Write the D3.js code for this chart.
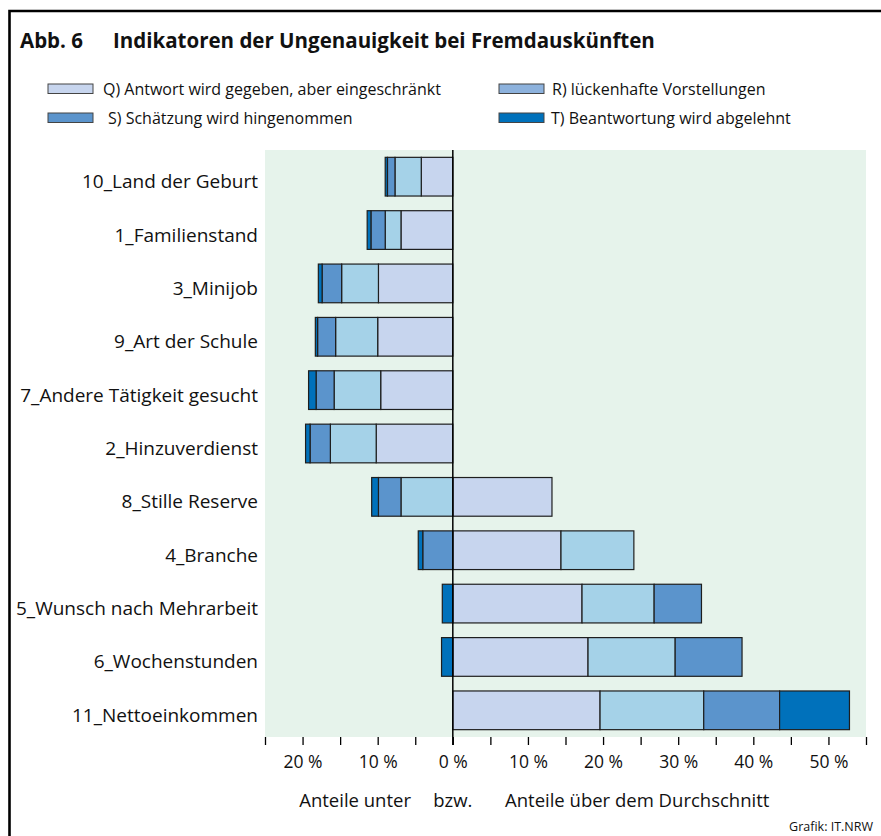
<!DOCTYPE html>
<html>
<head>
<meta charset="utf-8">
<script src="https://cdn.jsdelivr.net/npm/d3@7"></script>
<style>
  body { margin: 0; background: #fff; }
  svg text { font-family: "Open Sans", sans-serif; fill: #111; }
</style>
</head>
<body>
<div id="wrapper"></div>
<script>
// data (percent, negative = below average)
const categories = [
  "10_Land der Geburt", "1_Familienstand", "3_Minijob", "9_Art der Schule",
  "7_Andere Tätigkeit gesucht", "2_Hinzuverdienst", "8_Stille Reserve",
  "4_Branche", "5_Wunsch nach Mehrarbeit", "6_Wochenstunden", "11_Nettoeinkommen"
];
const valuesQ = [-4.2, -6.9, -9.9, -10.0, -9.6, -10.2, 13.2, 14.4, 17.2, 18.0, 19.6];
const valuesR = [-3.5, -2.1, -4.9, -5.6, -6.2, -6.1, -6.9, 9.7, 9.6, 11.6, 13.8];
const valuesS = [-1.0, -1.9, -2.6, -2.4, -2.4, -2.7, -3.0, -4.0, 6.3, 8.9, 10.1];
const valuesT = [-0.3, -0.5, -0.5, -0.3, -1.0, -0.6, -0.9, -0.6, -1.4, -1.5, 9.3];
const keys = ["Q", "R", "S", "T"];
const legendLabels = [
  "Q) Antwort wird gegeben, aber eingeschränkt",
  "R) lückenhafte Vorstellungen",
  "S) Schätzung wird hingenommen",
  "T) Beantwortung wird abgelehnt"
];
const tickValues = d3.range(-25, 56, 5);

const dataset = categories.map((c, i) => ({
  cat: c, Q: valuesQ[i], R: valuesR[i], S: valuesS[i], T: valuesT[i]
}));

const barColors = { Q: "#c7d5ee", R: "#a5d2e8", S: "#5b94cc", T: "#0071bb" };
const legendColors = { Q: "#c7d5ee", R: "#8db2dd", S: "#5b94cc", T: "#0071bb" };

// dimensions
const width = 881, height = 836;
const plot = { left: 265, right: 866, top: 150, bottom: 737 };

const svg = d3.select("#wrapper").append("svg")
  .attr("width", width)
  .attr("height", height);

// frame
svg.append("path")
  .attr("d", `M9.5,${height} V11 H${width}`)
  .attr("fill", "none")
  .attr("stroke", "#000")
  .attr("stroke-width", 2.6);

// title
svg.append("text")
  .attr("x", 20).attr("y", 48)
  .style("font-weight", 700).style("font-size", "20.5px")
  .text("Abb. 6");
svg.append("text")
  .attr("x", 113).attr("y", 48)
  .style("font-weight", 700).style("font-size", "20.5px")
  .text("Indikatoren der Ungenauigkeit bei Fremdauskünften");

// legend
const legendPos = [
  { x: 48, y: 84, tx: 103 }, { x: 499, y: 84, tx: 552 },
  { x: 48, y: 113, tx: 108 }, { x: 499, y: 113, tx: 551 }
];
keys.forEach((k, i) => {
  const p = legendPos[i];
  svg.append("rect")
    .attr("x", p.x).attr("y", p.y)
    .attr("width", 45).attr("height", 9.5)
    .attr("fill", legendColors[k])
    .attr("stroke", "#444").attr("stroke-width", 1);
  svg.append("text")
    .attr("x", p.tx).attr("y", p.y + 10.5)
    .style("font-size", "16px")
    .text(legendLabels[i]);
});

// scales
const xScale = d3.scaleLinear()
  .domain([-25, 55])
  .range([plot.left, plot.right]);

const yScale = d3.scaleBand()
  .domain(categories)
  .range([plot.top, plot.bottom])
  .paddingInner(0.275)
  .paddingOuter(0.1375);

// background
svg.append("rect")
  .attr("x", plot.left).attr("y", plot.top)
  .attr("width", plot.right - plot.left)
  .attr("height", plot.bottom - plot.top)
  .attr("fill", "#e6f3eb");

// stacked bars
const series = d3.stack()
  .keys(keys)
  .offset(d3.stackOffsetDiverging)(dataset);

svg.append("g")
  .selectAll("g")
  .data(series)
  .join("g")
  .attr("fill", (d) => barColors[d.key])
  .selectAll("rect")
  .data((d) => d)
  .join("rect")
  .attr("x", (d) => xScale(Math.min(d[0], d[1])))
  .attr("width", (d) => Math.abs(xScale(d[1]) - xScale(d[0])))
  .attr("y", (d) => yScale(d.data.cat))
  .attr("height", yScale.bandwidth())
  .attr("stroke", "#1e1e1e")
  .attr("stroke-width", 1.2);

// zero line
svg.append("line")
  .attr("x1", xScale(0)).attr("x2", xScale(0))
  .attr("y1", plot.top).attr("y2", plot.bottom + 8)
  .attr("stroke", "#000").attr("stroke-width", 1.5);

// category labels
svg.append("g")
  .selectAll("text")
  .data(categories)
  .join("text")
  .attr("x", 258)
  .attr("y", (d) => yScale(d) + yScale.bandwidth() / 2 + 11.5)
  .attr("text-anchor", "end")
  .style("font-size", "19px")
  .text((d) => d);

// x axis
const xAxisGenerator = d3.axisBottom(xScale)
  .tickValues(tickValues)
  .tickSize(8)
  .tickPadding(11)
  .tickFormat((d) => (d % 10 === 0 ? Math.abs(d) + " %" : ""));

const xAxis = svg.append("g")
  .attr("transform", `translate(0, ${plot.bottom})`)
  .call(xAxisGenerator);
xAxis.select(".domain").remove();
xAxis.selectAll(".tick line").attr("stroke", "#000").attr("stroke-width", 1.3);
xAxis.selectAll(".tick text")
  .style("font-family", "'Open Sans', sans-serif")
  .style("font-size", "17.5px")
  .attr("fill", "#111");

// axis captions
const captionY = 807;
svg.append("text")
  .attr("x", 411).attr("y", captionY)
  .attr("text-anchor", "end")
  .style("font-size", "18.5px")
  .text("Anteile unter");
svg.append("text")
  .attr("x", xScale(0)).attr("y", captionY)
  .attr("text-anchor", "middle")
  .style("font-size", "18.5px")
  .text("bzw.");
svg.append("text")
  .attr("x", 505).attr("y", captionY)
  .style("font-size", "18.5px")
  .text("Anteile über dem Durchschnitt");

// source
svg.append("text")
  .attr("x", 873).attr("y", 831)
  .attr("text-anchor", "end")
  .style("font-size", "12.5px")
  .text("Grafik: IT.NRW");
</script>
</body>
</html>
